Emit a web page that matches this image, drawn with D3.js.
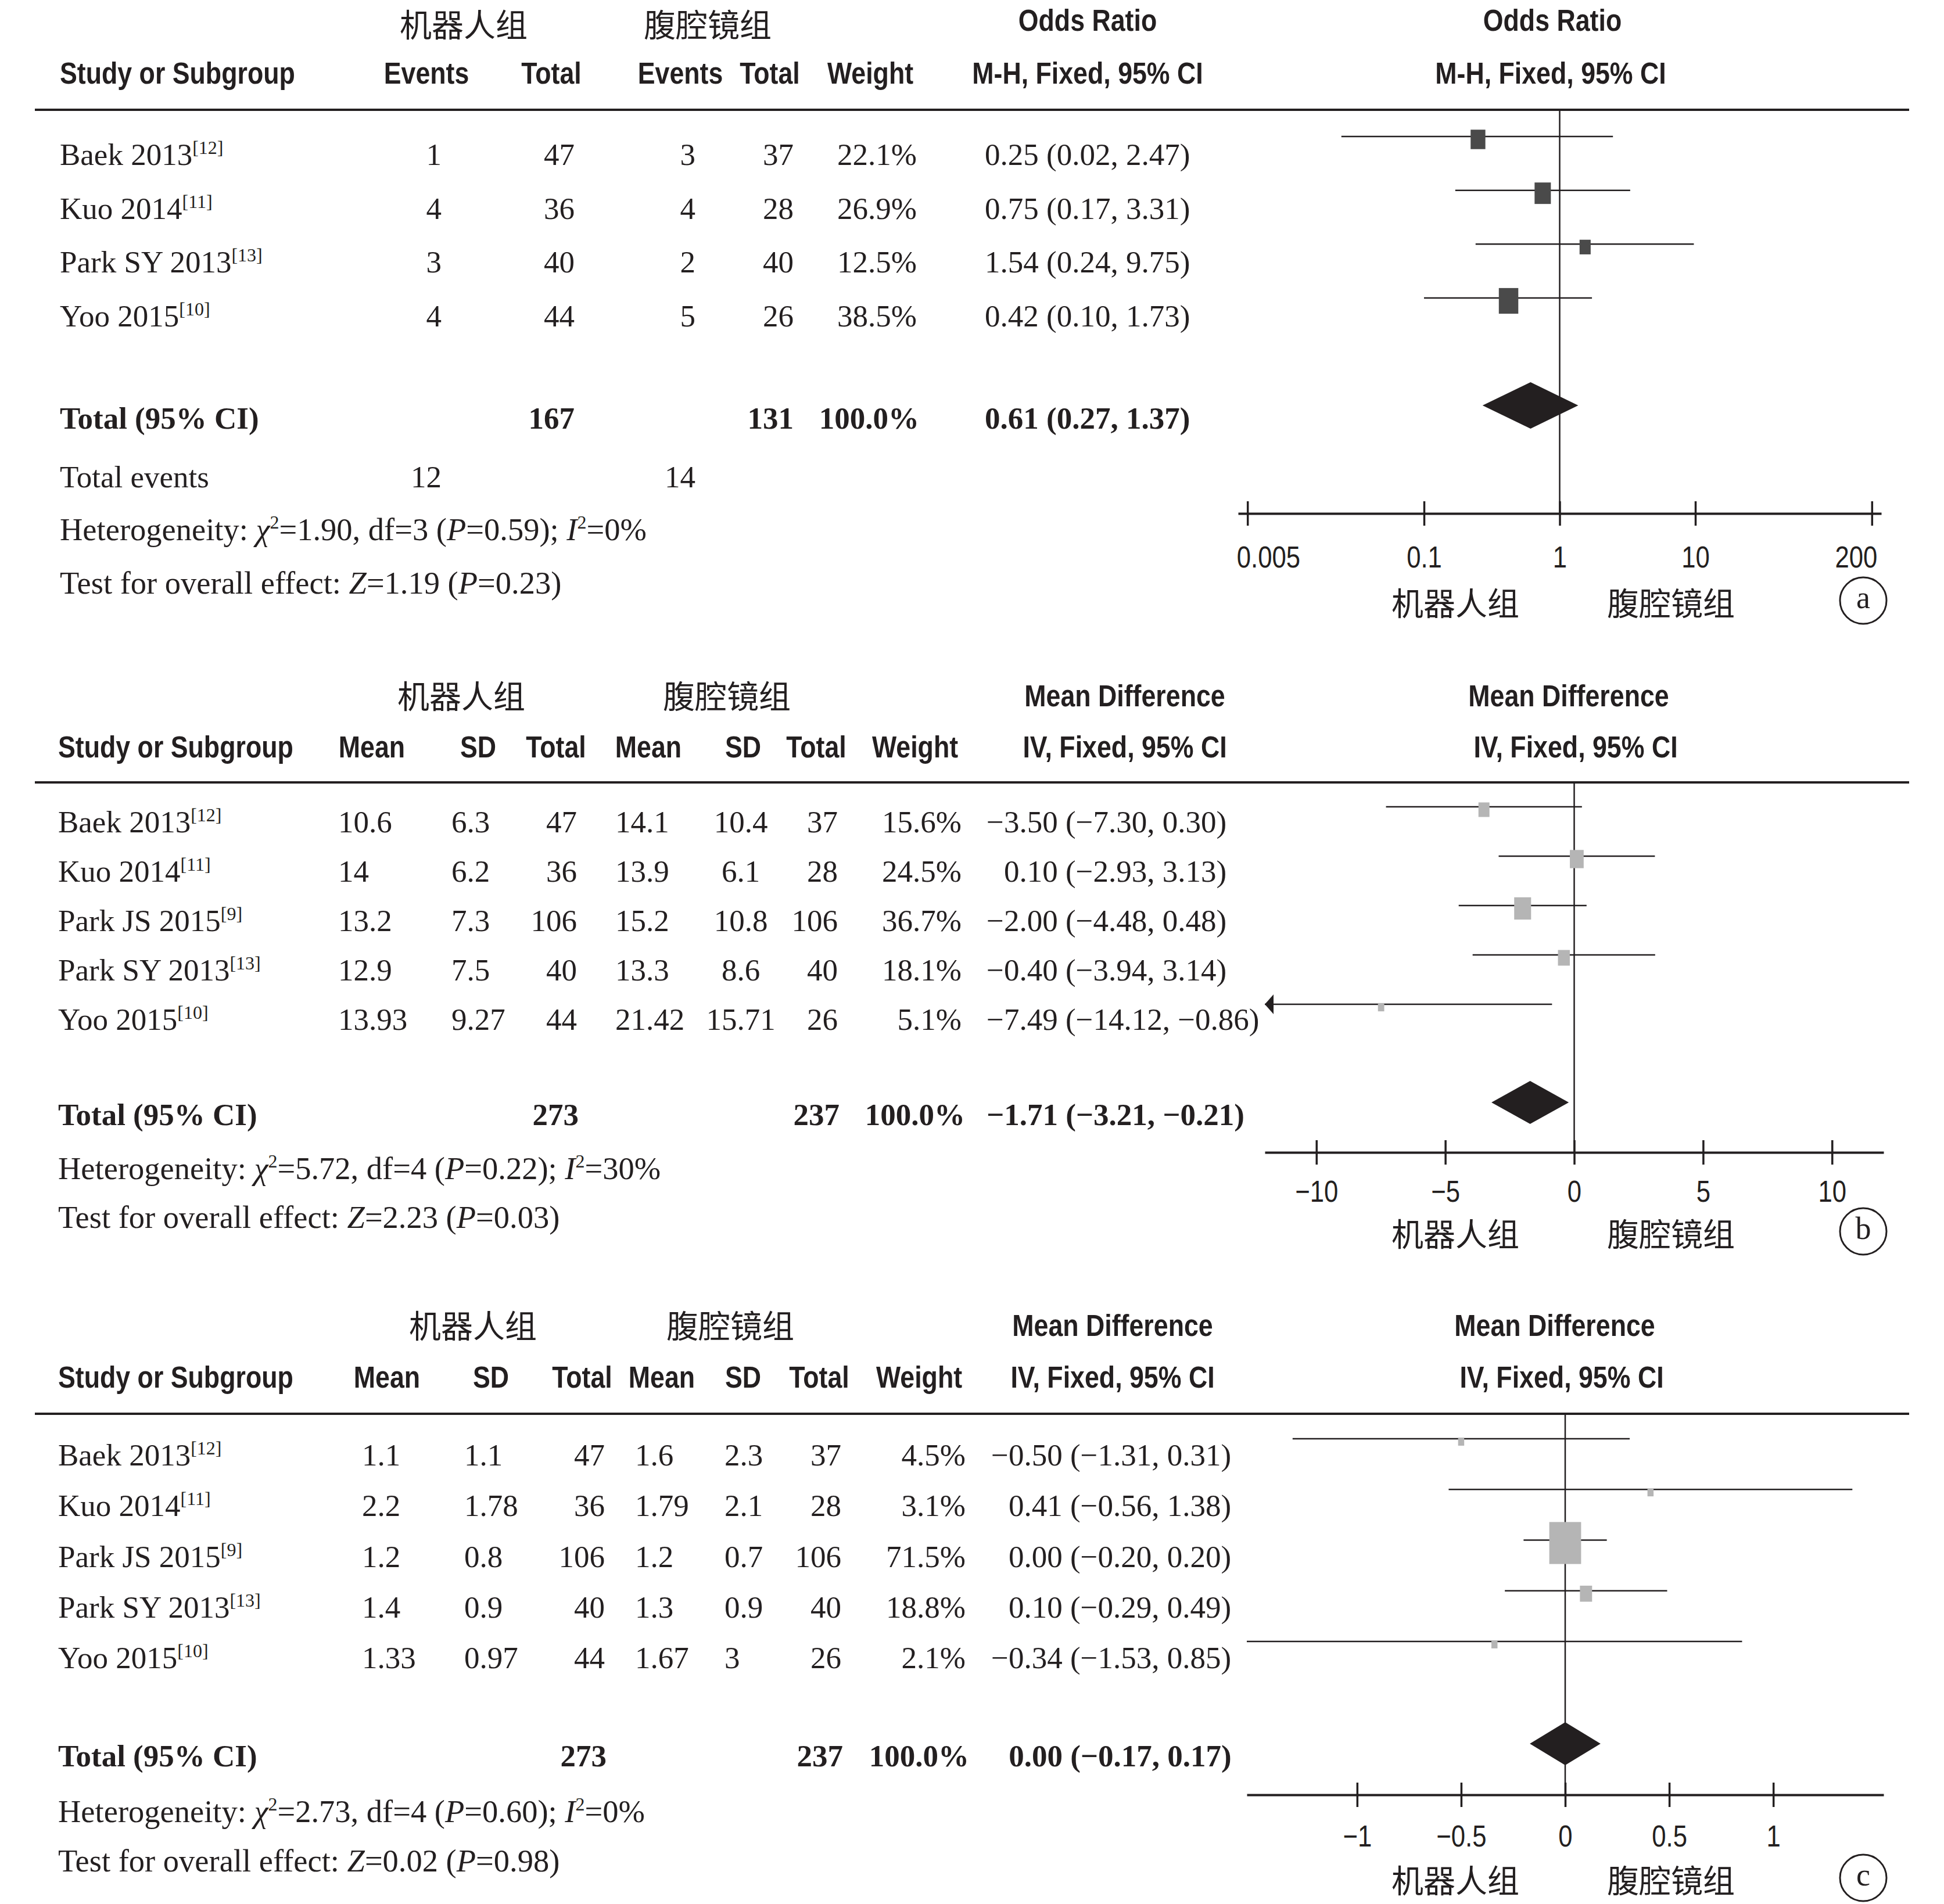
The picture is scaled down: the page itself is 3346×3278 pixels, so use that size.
<!DOCTYPE html>
<html><head><meta charset="utf-8">
<script src="https://cdn.jsdelivr.net/npm/d3@7"></script>
<style>html,body{margin:0;padding:0;background:#fff;} svg{display:block;}</style>
</head><body>
<svg id="chart" width="3346" height="3278"></svg>
<script>
// ================= DATA =================
const groupLabels = ["机器人组", "腹腔镜组"];
const panelTags = ["a", "b", "c"];

// ---- Panel a : Odds Ratio (M-H, Fixed) ----
const studiesA = ["Baek 2013", "Kuo 2014", "Park SY 2013", "Yoo 2015"];
const refsA = ["12", "11", "13", "10"];
const eventsRobotA = [1, 4, 3, 4];
const totalRobotA = [47, 36, 40, 44];
const eventsLapA = [3, 4, 2, 5];
const totalLapA = [37, 28, 40, 26];
const weightA = [22.1, 26.9, 12.5, 38.5];
const orA = [0.25, 0.75, 1.54, 0.42];
const orLowA = [0.0246, 0.17, 0.24, 0.10];
const orHighA = [2.47, 3.31, 9.75, 1.73];
const totalNA = [167, 131];
const totalEventsA = [12, 14];
const pooledA = [0.61, 0.27, 1.37];
const hetA = ["1.90", "3", "0.59", "0"];
const testA = ["1.19", "0.23"];
const ticksA = [0.005, 0.1, 1, 10, 200];
const tickLabelsA = ["0.005", "0.1", "1", "10", "200"];

// ---- Panels b, c : Mean Difference (IV, Fixed) ----
const studiesBC = ["Baek 2013", "Kuo 2014", "Park JS 2015", "Park SY 2013", "Yoo 2015"];
const refsBC = ["12", "11", "9", "13", "10"];

const meanRobotB = [10.6, 14, 13.2, 12.9, 13.93];
const sdRobotB = [6.3, 6.2, 7.3, 7.5, 9.27];
const nRobotB = [47, 36, 106, 40, 44];
const meanLapB = [14.1, 13.9, 15.2, 13.3, 21.42];
const sdLapB = [10.4, 6.1, 10.8, 8.6, 15.71];
const nLapB = [37, 28, 106, 40, 26];
const weightB = [15.6, 24.5, 36.7, 18.1, 5.1];
const mdB = [-3.50, 0.10, -2.00, -0.40, -7.49];
const mdLowB = [-7.30, -2.93, -4.48, -3.94, -14.12];
const mdHighB = [0.30, 3.13, 0.48, 3.14, -0.86];
const totalNB = [273, 237];
const pooledB = [-1.71, -3.21, -0.21];
const hetB = ["5.72", "4", "0.22", "30"];
const testB = ["2.23", "0.03"];
const ticksB = [-10, -5, 0, 5, 10];

const meanRobotC = [1.1, 2.2, 1.2, 1.4, 1.33];
const sdRobotC = [1.1, 1.78, 0.8, 0.9, 0.97];
const nRobotC = [47, 36, 106, 40, 44];
const meanLapC = [1.6, 1.79, 1.2, 1.3, 1.67];
const sdLapC = [2.3, 2.1, 0.7, 0.9, 3];
const nLapC = [37, 28, 106, 40, 26];
const weightC = [4.5, 3.1, 71.5, 18.8, 2.1];
const mdC = [-0.50, 0.41, 0.00, 0.10, -0.34];
const mdLowC = [-1.31, -0.56, -0.20, -0.29, -1.53];
const mdHighC = [0.31, 1.38, 0.20, 0.49, 0.85];
const totalNC = [273, 237];
const pooledC = [0.00, -0.17, 0.17];
const hetC = ["2.73", "4", "0.60", "0"];
const testC = ["0.02", "0.98"];
const ticksC = [-1, -0.5, 0, 0.5, 1];

// ================= STYLE / HELPERS =================
const INK = "#231f20";
const SERIF = "'Liberation Serif','Times New Roman',Times,serif";
const SANS = "'Liberation Sans',Arial,Helvetica,sans-serif";
const CJK = "'Noto Sans CJK SC','Noto Sans CJK JP',sans-serif";
const FS = 53, SUP = 32, SANS_FS = 52, SANS_SX = 0.86, CJK_FS = 55, TICK_SX = 0.84;

const svg = d3.select("#chart");
svg.append("rect").attr("width", 3346).attr("height", 3278).attr("fill", "#fff");

const f2 = d3.format(".2f");
const f1 = d3.format(".1f");
const signed = d => (d < 0 ? "\u2212" : "") + Math.abs(d);

function serif(g, x, y, anchor, bold) {
  return g.append("text").attr("x", x).attr("y", y)
    .attr("text-anchor", anchor || "start")
    .attr("font-family", SERIF).attr("font-size", FS)
    .attr("font-weight", bold ? "bold" : "normal").attr("fill", INK);
}
function sans(g, x, y, txt, anchor) {
  return g.append("text")
    .attr("transform", `translate(${x},${y}) scale(${SANS_SX},1)`)
    .attr("text-anchor", anchor || "middle")
    .attr("font-family", SANS).attr("font-size", SANS_FS)
    .attr("font-weight", "bold").attr("fill", INK).text(txt);
}
function cjk(g, x, yCenter, txt) {
  return g.append("text").attr("x", x).attr("y", yCenter + 0.38 * CJK_FS)
    .attr("text-anchor", "middle").attr("font-family", CJK)
    .attr("font-size", CJK_FS).attr("fill", INK).text(txt);
}
function measure(txt, bold) {
  const t = serif(svg, 0, -100, "start", bold).text(txt);
  const w = t.node().getComputedTextLength();
  t.remove();
  return w;
}
const minusW = measure("\u2212", false), minusWB = measure("\u2212", true);

function studyName(g, x, y, name, ref) {
  const t = serif(g, x, y, "start").text(name);
  t.append("tspan").attr("font-size", SUP).attr("dy", -19).text(`[${ref}]`);
}
const NOTE_FS = 54.5;
function hetLine(g, x, y, h) {
  const t = serif(g, x, y, "start").attr("font-size", NOTE_FS);
  t.append("tspan").text("Heterogeneity: ");
  t.append("tspan").attr("font-style", "italic").text("\u03c7");
  t.append("tspan").attr("font-size", SUP).attr("dy", -20).text("2");
  t.append("tspan").attr("dy", 20).text(`=${h[0]}, df=${h[1]} (`);
  t.append("tspan").attr("font-style", "italic").text("P");
  t.append("tspan").text(`=${h[2]}); `);
  t.append("tspan").attr("font-style", "italic").text("I");
  t.append("tspan").attr("font-size", SUP).attr("dy", -20).text("2");
  t.append("tspan").attr("dy", 20).text(`=${h[3]}%`);
}
function testLine(g, x, y, z) {
  const t = serif(g, x, y, "start").attr("font-size", NOTE_FS);
  t.append("tspan").text("Test for overall effect: ");
  t.append("tspan").attr("font-style", "italic").text("Z");
  t.append("tspan").text(`=${z[0]} (`);
  t.append("tspan").attr("font-style", "italic").text("P");
  t.append("tspan").text(`=${z[1]})`);
}
function rule(g, y) {
  g.append("line").attr("x1", 60).attr("x2", 3286).attr("y1", y).attr("y2", y)
    .attr("stroke", INK).attr("stroke-width", 4);
}
function drawAxis(g, x, y, ticks, fmt, labelOff, labelCenterY, tag, edgeShift) {
  const ax = d3.axisBottom(x).tickValues(ticks).tickFormat(fmt)
    .tickSizeInner(21).tickSizeOuter(0);
  const ga = g.append("g").attr("transform", `translate(0,${y})`).call(ax);
  ga.attr("font-family", null).attr("font-size", null);
  ga.select(".domain").attr("stroke", INK).attr("stroke-width", 4);
  ga.selectAll(".tick line").attr("y1", -21).attr("y2", 21)
    .attr("stroke", INK).attr("stroke-width", 3.5);
  const txt = ga.selectAll(".tick text").attr("y", labelOff).attr("dy", null)
    .attr("fill", INK).attr("font-family", SANS).attr("font-size", 52)
    .attr("transform", `scale(${TICK_SX},1)`);
  if (edgeShift) {
    const n = txt.size();
    txt.each(function (d, i) {
      if (i === 0) d3.select(this).attr("text-anchor", "start").attr("x", edgeShift[0] / TICK_SX);
      if (i === n - 1) d3.select(this).attr("text-anchor", "end").attr("x", edgeShift[1] / TICK_SX);
    });
  }
  cjk(g, 2505, labelCenterY, groupLabels[0]);
  cjk(g, 2876, labelCenterY, groupLabels[1]);
  g.append("circle").attr("cx", 3207).attr("cy", labelCenterY - 4).attr("r", 40)
    .attr("fill", "none").attr("stroke", INK).attr("stroke-width", 3);
  serif(g, 3207, labelCenterY - 4 + 13, "middle").attr("font-size", 54).text(tag);
}
function forestMarks(g, x, rowY, md, lo, hi, weight, boxScale, minBox, fill) {
  const [dMin, dMax] = x.domain();
  md.forEach((m, i) => {
    const y = rowY(i);
    const l = Math.max(lo[i], dMin), h = Math.min(hi[i], dMax);
    g.append("line").attr("x1", x(l)).attr("x2", x(h)).attr("y1", y).attr("y2", y)
      .attr("stroke", INK).attr("stroke-width", 2.5);
    if (lo[i] < dMin) {
      const x0 = x(dMin);
      g.append("path").attr("d", `M${x0},${y}L${x0 + 15},${y - 17}L${x0 + 15},${y + 17}Z`).attr("fill", INK);
    }
    if (hi[i] > dMax) {
      const x0 = x(dMax);
      g.append("path").attr("d", `M${x0},${y}L${x0 - 15},${y - 17}L${x0 - 15},${y + 17}Z`).attr("fill", INK);
    }
    const w = Math.max(minBox, boxScale(weight[i])), hgt = w * 1.32;
    g.append("rect").attr("x", x(m) - w / 2).attr("y", y + 5 - hgt / 2)
      .attr("width", w).attr("height", hgt).attr("fill", fill);
  });
}
function diamond(g, x, y, p, half) {
  g.append("path")
    .attr("d", `M${x(p[1])},${y}L${x(p[0])},${y - half}L${x(p[2])},${y}L${x(p[0])},${y + half}Z`)
    .attr("fill", INK);
}

// ================= PANEL A =================
(function () {
  const g = svg.append("g");
  const x = d3.scaleLog().domain([Math.pow(10, -2.3704), Math.pow(10, 2.3704)]).range([2131, 3238]);
  const rowY = d3.scalePoint().domain(d3.range(studiesA.length)).range([235, 513]);
  const off = 49;

  cjk(g, 798, 42, groupLabels[0]);
  cjk(g, 1218, 42, groupLabels[1]);
  sans(g, 1872, 53, "Odds Ratio");
  sans(g, 2672, 53, "Odds Ratio");
  const h2 = 144;
  sans(g, 103, h2, "Study or Subgroup", "start");
  sans(g, 734, h2, "Events");
  sans(g, 949, h2, "Total");
  sans(g, 1171, h2, "Events");
  sans(g, 1325, h2, "Total");
  sans(g, 1498, h2, "Weight");
  sans(g, 1872, h2, "M-H, Fixed, 95% CI");
  sans(g, 2669, h2, "M-H, Fixed, 95% CI");
  rule(g, 189);

  studiesA.forEach((s, i) => {
    const y = rowY(i) + off;
    studyName(g, 103, y, s, refsA[i]);
    serif(g, 760, y, "end").text(eventsRobotA[i]);
    serif(g, 989, y, "end").text(totalRobotA[i]);
    serif(g, 1197, y, "end").text(eventsLapA[i]);
    serif(g, 1366, y, "end").text(totalLapA[i]);
    serif(g, 1578, y, "end").text(f1(weightA[i]) + "%");
    serif(g, 1695, y, "start").text(`${f2(orA[i])} (${f2(orLowA[i])}, ${f2(orHighA[i])})`);
  });
  const ty = 738;
  serif(g, 103, ty, "start", true).text("Total (95% CI)");
  serif(g, 989, ty, "end", true).text(totalNA[0]);
  serif(g, 1366, ty, "end", true).text(totalNA[1]);
  serif(g, 1582, ty, "end", true).text("100.0%");
  serif(g, 1695, ty, "start", true).text(`${f2(pooledA[0])} (${f2(pooledA[1])}, ${f2(pooledA[2])})`);
  serif(g, 103, 839, "start").text("Total events");
  serif(g, 760, 839, "end").text(totalEventsA[0]);
  serif(g, 1197, 839, "end").text(totalEventsA[1]);
  hetLine(g, 103, 930, hetA);
  testLine(g, 103, 1022, testA);

  g.append("line").attr("x1", x(1)).attr("x2", x(1)).attr("y1", 189).attr("y2", 884)
    .attr("stroke", INK).attr("stroke-width", 2.5);
  forestMarks(g, x, rowY, orA, orLowA, orHighA, weightA,
    d3.scaleSqrt().domain([0, 100]).range([0, 54]), 10, "#4a4a4a");
  diamond(g, x, 698, pooledA, 40);
  drawAxis(g, x, 884, ticksA, (d, i) => tickLabelsA[i], 93, 1038, panelTags[0], [-19, 9]);
})();

// ================= PANEL B / C =================
function mdPanel(cfg) {
  const g = svg.append("g");
  const x = d3.scaleLinear().domain(cfg.domain).range(cfg.range);
  const rowY = d3.scalePoint().domain(d3.range(studiesBC.length)).range(cfg.rows);
  const c = cfg.cols;

  cjk(g, c.cjk[0], cfg.hdr1 - 18, groupLabels[0]);
  cjk(g, c.cjk[1], cfg.hdr1 - 18, groupLabels[1]);
  sans(g, c.md, cfg.hdr1, "Mean Difference");
  sans(g, cfg.rightHdr[0], cfg.hdr1, "Mean Difference");
  sans(g, 100, cfg.hdr2, "Study or Subgroup", "start");
  ["Mean", "SD", "Total", "Mean", "SD", "Total", "Weight"].forEach((t, i) =>
    sans(g, c.hdr[i], cfg.hdr2, t));
  sans(g, c.md, cfg.hdr2, "IV, Fixed, 95% CI");
  sans(g, cfg.rightHdr[1], cfg.hdr2, "IV, Fixed, 95% CI");
  rule(g, cfg.rule);

  const d = cfg.data;
  const effectX = (v, bold) => c.eff + (v < 0 ? 0 : (bold ? minusWB : minusW));
  studiesBC.forEach((s, i) => {
    const y = rowY(i) + cfg.off;
    studyName(g, 100, y, s, refsBC[i]);
    serif(g, c.m1, y, "start").text(d.m1[i]);
    serif(g, c.s1, y, c.s1a).text(d.s1[i]);
    serif(g, c.n1, y, "end").text(d.n1[i]);
    serif(g, c.m2, y, "start").text(d.m2[i]);
    serif(g, c.s2, y, c.s2a).text(d.s2[i]);
    serif(g, c.n2, y, "end").text(d.n2[i]);
    serif(g, c.w, y, "end").text(f1(d.w[i]) + "%");
    serif(g, effectX(d.md[i], false), y, "start")
      .text(`${f2(d.md[i])} (${f2(d.lo[i])}, ${f2(d.hi[i])})`);
  });
  const ty = cfg.total;
  serif(g, 100, ty, "start", true).text("Total (95% CI)");
  serif(g, c.n1 + 3, ty, "end", true).text(d.tn[0]);
  serif(g, c.n2 + 3, ty, "end", true).text(d.tn[1]);
  serif(g, c.w + 6, ty, "end", true).text("100.0%");
  serif(g, effectX(d.pooled[0], true), ty, "start", true)
    .text(`${f2(d.pooled[0])} (${f2(d.pooled[1])}, ${f2(d.pooled[2])})`);
  hetLine(g, 100, cfg.het, d.het);
  testLine(g, 100, cfg.test, d.test);

  g.append("line").attr("x1", x(0)).attr("x2", x(0)).attr("y1", cfg.rule).attr("y2", cfg.axis)
    .attr("stroke", INK).attr("stroke-width", 2.5);
  forestMarks(g, x, rowY, d.md, d.lo, d.hi, d.w,
    d3.scalePow().exponent(cfg.boxExp).domain([0, 100]).range([0, cfg.boxK]), cfg.boxMin, "#b5b5b5");
  diamond(g, x, cfg.diamond, d.pooled, 37);
  drawAxis(g, x, cfg.axis, cfg.ticks, signed, cfg.tickOff, cfg.axisLabel, cfg.tag, null);
}

mdPanel({
  tag: panelTags[1], domain: [-12, 12], range: [2177, 3242], rows: [1389, 1729], off: 44,
  hdr1: 1216, hdr2: 1304, rule: 1347, total: 1937, het: 2030, test: 2114,
  diamond: 1898, axis: 1984, tickOff: 85, axisLabel: 2124, ticks: ticksB,
  boxK: 48, boxExp: 0.5, boxMin: 10,
  rightHdr: [2700, 2712],
  cols: { cjk: [794, 1251], md: 1936, hdr: [640, 823, 957, 1116, 1279, 1405, 1575],
    m1: 582, s1: 777, s1a: "start", n1: 993, m2: 1059, s2: 1275, s2a: "middle", n2: 1442, w: 1655, eff: 1698 },
  data: { m1: meanRobotB, s1: sdRobotB, n1: nRobotB, m2: meanLapB, s2: sdLapB, n2: nLapB,
    w: weightB, md: mdB, lo: mdLowB, hi: mdHighB, tn: totalNB, pooled: pooledB, het: hetB, test: testB }
});

mdPanel({
  tag: panelTags[2], domain: [-1.53, 1.53], range: [2146, 3242], rows: [2477, 2826], off: 46,
  hdr1: 2300, hdr2: 2389, rule: 2434, total: 3041, het: 3137, test: 3222,
  diamond: 3002, axis: 3090, tickOff: 89, axisLabel: 3237, ticks: ticksC,
  boxK: 69.7, boxExp: 0.72, boxMin: 10.5,
  rightHdr: [2676, 2688],
  cols: { cjk: [814, 1257], md: 1915, hdr: [666, 845, 1002, 1139, 1279, 1410, 1582],
    m1: 623, s1: 799, s1a: "start", n1: 1041, m2: 1093, s2: 1247, s2a: "start", n2: 1448, w: 1662, eff: 1706 },
  data: { m1: meanRobotC, s1: sdRobotC, n1: nRobotC, m2: meanLapC, s2: sdLapC, n2: nLapC,
    w: weightC, md: mdC, lo: mdLowC, hi: mdHighC, tn: totalNC, pooled: pooledC, het: hetC, test: testC }
});
</script>
</body></html>
